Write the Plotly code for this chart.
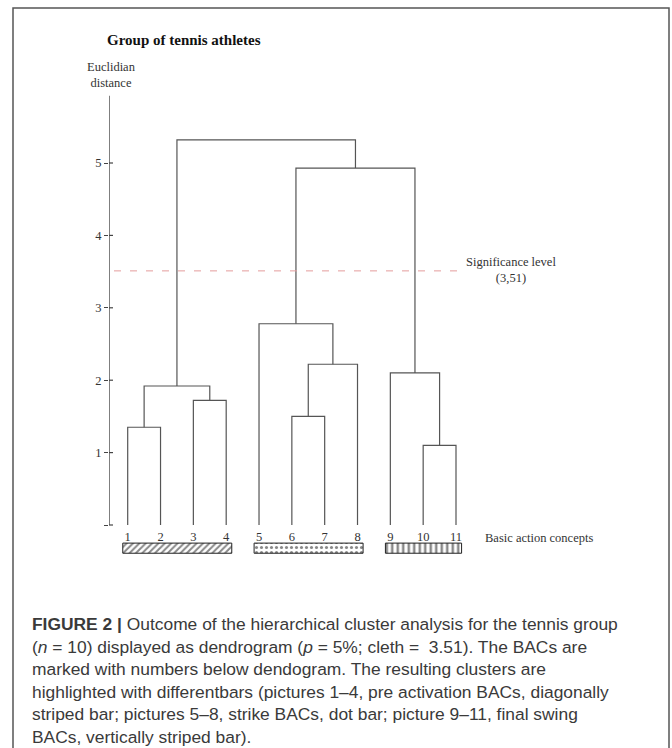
import plotly.graph_objects as go

# ---------------- data ----------------
leaf_labels = ["1", "2", "3", "4", "5", "6", "7", "8", "9", "10", "11"]
# linkage: (left id, right id, height); ids 0..10 are leaves, new clusters get 11, 12, ...
merge_left = [0, 2, 11, 5, 14, 4, 9, 8, 16, 13]
merge_right = [1, 3, 12, 6, 7, 15, 10, 17, 18, 19]
merge_height = [1.35, 1.72, 1.92, 1.50, 2.22, 2.78, 1.10, 2.10, 4.93, 5.32]

tick_values = [0, 1, 2, 3, 4, 5]
tick_labels = ["", "1", "2", "3", "4", "5"]

significance = 3.51
cluster_first = [1, 5, 9]
cluster_last = [4, 8, 11]
cluster_patterns = ["/", ".", "|"]

caption_lines = [
    "<b>FIGURE 2 |</b> Outcome of the hierarchical cluster analysis for the tennis group",
    "(<i>n</i> = 10) displayed as dendrogram (<i>p</i> = 5%; cleth =  3.51). The BACs are",
    "marked with numbers below dendogram. The resulting clusters are",
    "highlighted with differentbars (pictures 1–4, pre activation BACs, diagonally",
    "striped bar; pictures 5–8, strike BACs, dot bar; picture 9–11, final swing",
    "BACs, vertically striped bar).",
]

# ---------------- layout geometry ----------------
W, H = 672, 748
L, R, T, B = 109, 72, 90, 188
PW, PH = W - L - R, H - T - B
PX_X = 32.83   # px per leaf step
PX_Y = 72.4    # px per distance unit
x0 = 1 - (127.7 - L) / PX_X
x1 = x0 + PW / PX_X
y1 = (525 - T) / PX_Y
y0 = y1 - PH / PX_Y


def pxx(px):
    return (px - L) / PW


def pxy(py):
    return 1 - (py - T) / PH


# ---------------- dendrogram coordinates ----------------
n = len(leaf_labels)
pos = {i: (i + 1, 0.0) for i in range(n)}
xs, ys = [], []
for k, (a, b, h) in enumerate(zip(merge_left, merge_right, merge_height)):
    xa, ya = pos[a]
    xb, yb = pos[b]
    xs += [xa, xa, xb, xb, None]
    ys += [ya, h, h, yb, None]
    pos[n + k] = ((xa + xb) / 2, h)

fig = go.Figure()

fig.add_trace(go.Scatter(x=xs, y=ys, mode="lines",
                         line=dict(color="#555555", width=1.2),
                         hoverinfo="skip", showlegend=False))

# significance line
fig.add_trace(go.Scatter(x=[x0 + 5 / PX_X, 11.06], y=[significance, significance],
                         mode="lines",
                         line=dict(color="#e49c9c", width=1, dash="7px,9px"),
                         hoverinfo="skip", showlegend=False))

# leaf labels
fig.add_trace(go.Scatter(x=list(range(1, n + 1)), y=[-0.18] * n, mode="text",
                         text=leaf_labels,
                         textfont=dict(family="Liberation Serif", size=12.5, color="#333"),
                         hoverinfo="skip", showlegend=False))

# cluster bars
pad_l, pad_r = 0.15, 0.17
for f, l, p in zip(cluster_first, cluster_last, cluster_patterns):
    left, right = f - pad_l, l + pad_r
    if p == "/":
        pat = dict(shape=p, size=4.5, solidity=0.45, fgcolor="#111", bgcolor="white")
    elif p == ".":
        pat = dict(shape=p, size=5, solidity=0.3, fgcolor="#111", bgcolor="white")
    else:
        pat = dict(shape=p, size=5.5, solidity=0.45, fgcolor="#111", bgcolor="white")
    fig.add_trace(go.Bar(x=[(left + right) / 2], y=[0.14], base=[-0.39],
                         width=[right - left],
                         marker=dict(color="white", pattern=pat,
                                     line=dict(color="#222", width=1)),
                         hoverinfo="skip", showlegend=False))

shapes = []
# y axis line
shapes.append(dict(type="line", xref="x", yref="y", x0=x0, x1=x0, y0=0, y1=5.93,
                   line=dict(color="#555", width=1.5)))
# inner half of the crossing ticks
for v in tick_values:
    shapes.append(dict(type="line", xref="x", yref="y", x0=x0, x1=x0 + 4 / PX_X,
                       y0=v, y1=v, line=dict(color="#444", width=1.2)))
# outer frame
shapes.append(dict(type="rect", xref="paper", yref="paper",
                   x0=pxx(13), x1=pxx(669), y0=pxy(8), y1=pxy(780),
                   line=dict(color="#555", width=1.5), fillcolor="rgba(0,0,0,0)"))

annotations = [
    dict(text="<b>Group of tennis athletes</b>", x=pxx(105), y=pxy(40),
         xanchor="left", yanchor="middle",
         font=dict(family="Liberation Serif", size=15, color="#111")),
    dict(text="Euclidian<br>distance", x=pxx(111), y=pxy(75),
         xanchor="center", yanchor="middle",
         font=dict(family="Liberation Serif", size=12.5, color="#333")),
    dict(text="Significance level<br>(3,51)", x=pxx(511), y=pxy(270),
         xanchor="center", yanchor="middle",
         font=dict(family="Liberation Serif", size=12.5, color="#333")),
    dict(text="Basic action concepts", x=pxx(483), y=pxy(538),
         xanchor="left", yanchor="middle",
         font=dict(family="Liberation Serif", size=12.5, color="#333")),
]
cap_y = [624, 646.5, 669, 691.5, 714, 736.5]
for line, cy in zip(caption_lines, cap_y):
    annotations.append(dict(text=line, x=pxx(30), y=pxy(cy), xanchor="left",
                            yanchor="middle",
                            font=dict(family="Liberation Sans", size=17.4, color="#3a3a3a")))
for a in annotations:
    a.update(xref="paper", yref="paper", showarrow=False)

fig.update_layout(
    width=W, height=H,
    margin=dict(l=L, r=R, t=T, b=B),
    paper_bgcolor="white", plot_bgcolor="white",
    barmode="overlay",
    hovermode=False,
    shapes=shapes, annotations=annotations,
    xaxis=dict(range=[x0, x1], visible=False, fixedrange=True),
    yaxis=dict(range=[y0, y1], showline=False, showgrid=False, zeroline=False,
               tickvals=tick_values, ticktext=tick_labels,
               ticks="outside", ticklen=4, tickcolor="#444", tickwidth=1.2,
               tickfont=dict(family="Liberation Serif", size=12.5, color="#333"),
               fixedrange=True),
)

fig.write_html("out.html",
               config={"displayModeBar": False},
               post_script="document.body.style.margin='0px';document.body.style.overflow='hidden';")
